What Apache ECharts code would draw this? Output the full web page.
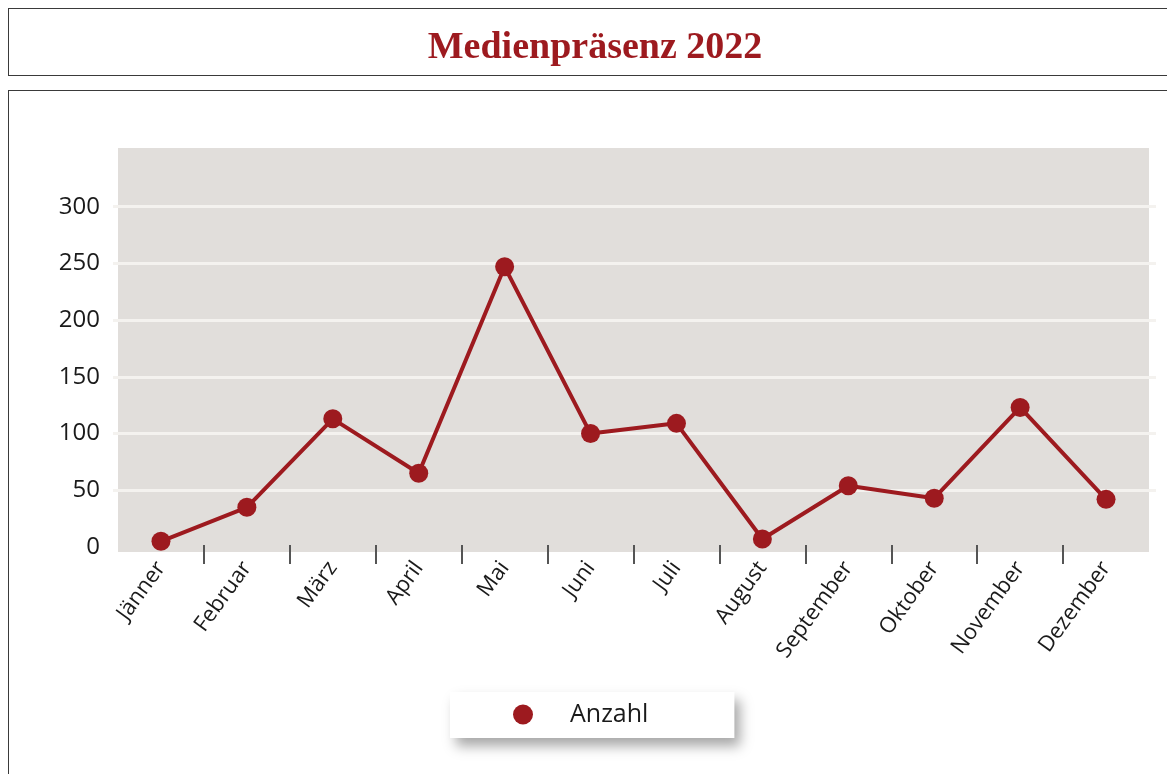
<!DOCTYPE html>
<html>
<head>
<meta charset="utf-8">
<title>Medienpräsenz 2022</title>
<script src="https://cdn.jsdelivr.net/npm/echarts@6/dist/echarts.min.js"></script>
<style>
  body {
    margin: 0;
    background: #fff;
    overflow: hidden;
  }
  .box_title {
    position: absolute;
    left: 8px;
    top: 8px;
    width: 1180px;
    height: 66px;
    border: 1px solid #3a3a3a;
  }
  .box_chart {
    position: absolute;
    left: 8px;
    top: 90px;
    width: 1180px;
    height: 720px;
    border: 1px solid #3a3a3a;
  }
  .echarts_index {
    position: absolute;
    left: 0;
    top: 0;
    width: 1167px;
    height: 774px;
  }
</style>
</head>
<body>
<div class="box_title"></div>
<div class="box_chart"></div>
<div class="echarts_index"></div>

<script>
// Monate
var months = [
  "Jänner", "Februar", "März", "April", "Mai", "Juni",
  "Juli", "August", "September", "Oktober", "November", "Dezember"
];
// Anzahl pro Monat
var anzahl = [5, 35, 113, 65, 247, 100, 109, 7, 54, 43, 123, 42];
// y-Achse
var yTicks = { min: 0, max: 350, step: 50 };

var red = "#9d1a1f";
var textColor = "#1a1a1a";
var font = "'Open Sans', 'DejaVu Sans', sans-serif";

var myChart = echarts.init(document.querySelector(".echarts_index"));

var option = {
  animation: false,
  title: {
    text: "Medienpräsenz 2022",
    left: 590,
    top: 24,
    textAlign: "center",
    textStyle: {
      color: red,
      fontFamily: "'Liberation Serif', 'DejaVu Serif', serif",
      fontWeight: "bold",
      fontSize: 38
    }
  },
  legend: {
    data: ["Anzahl"],
    left: 450,
    top: 692,
    orient: "horizontal",
    icon: "circle",
    itemWidth: 84,
    itemHeight: 20,
    padding: [10, 86, 11, 63],
    backgroundColor: "#fff",
    shadowColor: "rgba(0,0,0,0.35)",
    shadowBlur: 12,
    shadowOffsetX: 6,
    shadowOffsetY: 8,
    textStyle: {
      color: textColor,
      fontFamily: font,
      fontSize: 25
    }
  },
  grid: [
    // nur fuer die Hilfslinien (ragen etwas ueber die Flaeche hinaus)
    {
      left: 113,
      right: 11,
      top: 150,
      bottom: 227
    },
    // graue Flaeche + Linie
    {
      left: 118,
      right: 18,
      top: 148,
      bottom: 222,
      show: true,
      backgroundColor: "#e1dedb",
      borderWidth: 0
    },
    // Striche zwischen den Monaten (ohne die beiden Randstriche)
    {
      left: 203.9,
      right: 103.9,
      top: 150,
      bottom: 229
    }
  ],
  xAxis: [
    {
      type: "category",
      gridIndex: 0,
      data: months,
      show: false
    },
    {
      type: "category",
      gridIndex: 1,
      data: months,
      boundaryGap: true,
      axisLine: { show: false, onZero: true },
      axisTick: { show: false },
      axisLabel: {
        rotate: 54,
        margin: 12,
        color: textColor,
        fontFamily: font,
        fontSize: 22
      }
    },
    {
      type: "category",
      gridIndex: 2,
      data: months.slice(1),
      boundaryGap: false,
      axisLine: { show: false },
      axisTick: {
        show: true,
        length: 19,
        lineStyle: { color: "#555", width: 2 }
      },
      axisLabel: { show: false }
    }
  ],
  yAxis: [
    {
      type: "value",
      gridIndex: 0,
      min: yTicks.min,
      max: yTicks.max,
      interval: yTicks.step,
      axisLine: { show: false },
      axisTick: { show: false },
      axisLabel: {
        showMaxLabel: false,
        margin: 13,
        color: textColor,
        fontFamily: font,
        fontSize: 24
      },
      splitLine: {
        show: true,
        showMinLine: false,
        showMaxLine: false,
        lineStyle: { color: "#f4f2ef", width: 3 }
      }
    },
    {
      type: "value",
      gridIndex: 1,
      min: -4.41,
      max: 351.76,
      show: false,
      splitLine: { show: false }
    },
    {
      type: "value",
      gridIndex: 2,
      min: yTicks.min,
      max: yTicks.max,
      show: false,
      splitLine: { show: false }
    }
  ],
  series: [
    {
      name: "Anzahl",
      type: "line",
      xAxisIndex: 1,
      yAxisIndex: 1,
      color: red,
      symbol: "circle",
      symbolSize: 19,
      lineStyle: { width: 4, color: red },
      itemStyle: { color: red },
      data: anzahl
    }
  ]
};

myChart.setOption(option, true);
</script>
</body>
</html>
